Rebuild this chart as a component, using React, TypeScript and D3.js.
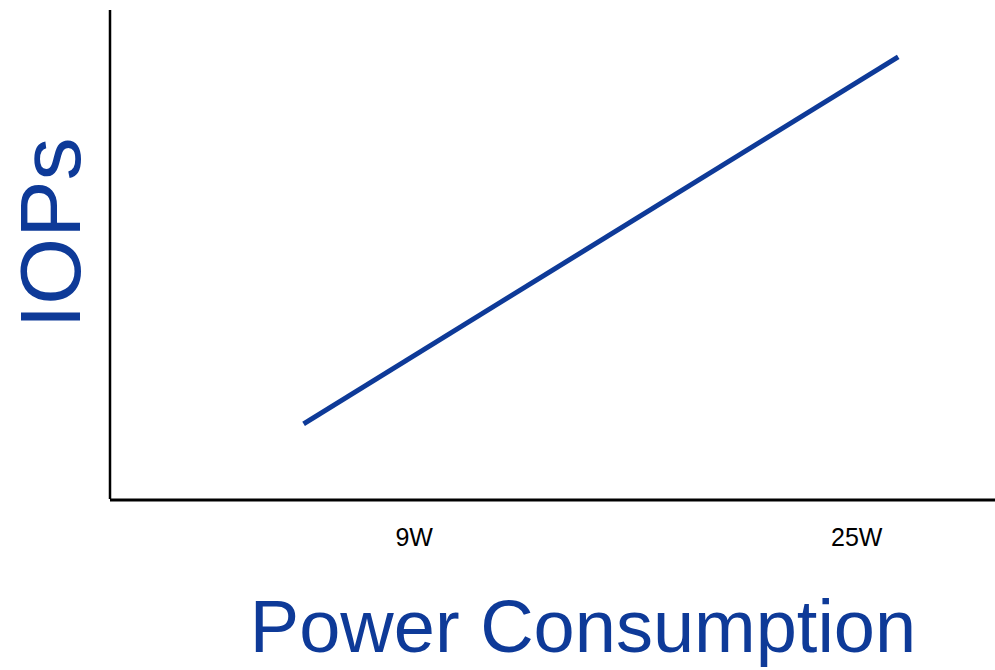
import React, { useEffect, useRef } from 'react';
import * as d3 from 'd3';

// power (W) vs relative IOPs
const powerWatts = [5, 26.5];
const iopsLevel = [15.2, 90.4];
const tickWatts = [9, 25];
const tickLabels = ['9W', '25W'];

const W = 995;
const H = 670;
const blue = '#0e3a98';
const font = '"Liberation Sans", Arial, Helvetica, sans-serif';

function drawChart(svgRef: React.RefObject<SVGSVGElement>) {
    const svg = d3.select(svgRef.current);
    svg.selectAll('*').remove();

    const x = d3.scaleLinear().domain([-2, 30]).range([110, 995]);
    const y = d3.scaleLinear().domain([0, 100]).range([498, 10]);

    // axes (plain lines, no ticks)
    svg.append('line')
        .attr('x1', x.range()[0]).attr('x2', x.range()[0])
        .attr('y1', y.range()[1]).attr('y2', y.range()[0] + 1)
        .attr('stroke', '#000').attr('stroke-width', 2.5);
    svg.append('line')
        .attr('x1', x.range()[0]).attr('x2', x.range()[1])
        .attr('y1', 500).attr('y2', 500)
        .attr('stroke', '#000').attr('stroke-width', 3);

    // tick labels
    svg.selectAll('text.tick')
        .data(tickWatts)
        .enter()
        .append('text')
        .attr('class', 'tick')
        .attr('x', d => x(d))
        .attr('y', 546)
        .attr('text-anchor', 'middle')
        .attr('font-family', font)
        .attr('font-size', 25)
        .attr('fill', '#000')
        .text((d, i) => tickLabels[i]);

    const pts: [number, number][] = powerWatts.map((p, i) => [x(p), y(iopsLevel[i])]);
    const line = d3.line();
    svg.append('path')
        .attr('d', line(pts))
        .attr('fill', 'none')
        .attr('stroke', blue)
        .attr('stroke-width', 5);

    // axis titles
    svg.append('text')
        .attr('transform', 'translate(80,233) rotate(-90)')
        .attr('text-anchor', 'middle')
        .attr('font-family', font)
        .attr('font-size', 86)
        .attr('fill', blue)
        .text('IOPs');

    svg.append('text')
        .attr('x', 583)
        .attr('y', 652)
        .attr('text-anchor', 'middle')
        .attr('font-family', font)
        .attr('font-size', 74)
        .attr('fill', blue)
        .text('Power Consumption');
}

export default function App() {
    const svg = useRef<SVGSVGElement>(null);

    useEffect(() => {
        drawChart(svg);
    }, []);

    return (
        <svg
            ref={svg}
            width={W}
            height={H}
            style={{ position: 'fixed', left: 0, top: 0, background: '#fff' }}
        />
    );
}
